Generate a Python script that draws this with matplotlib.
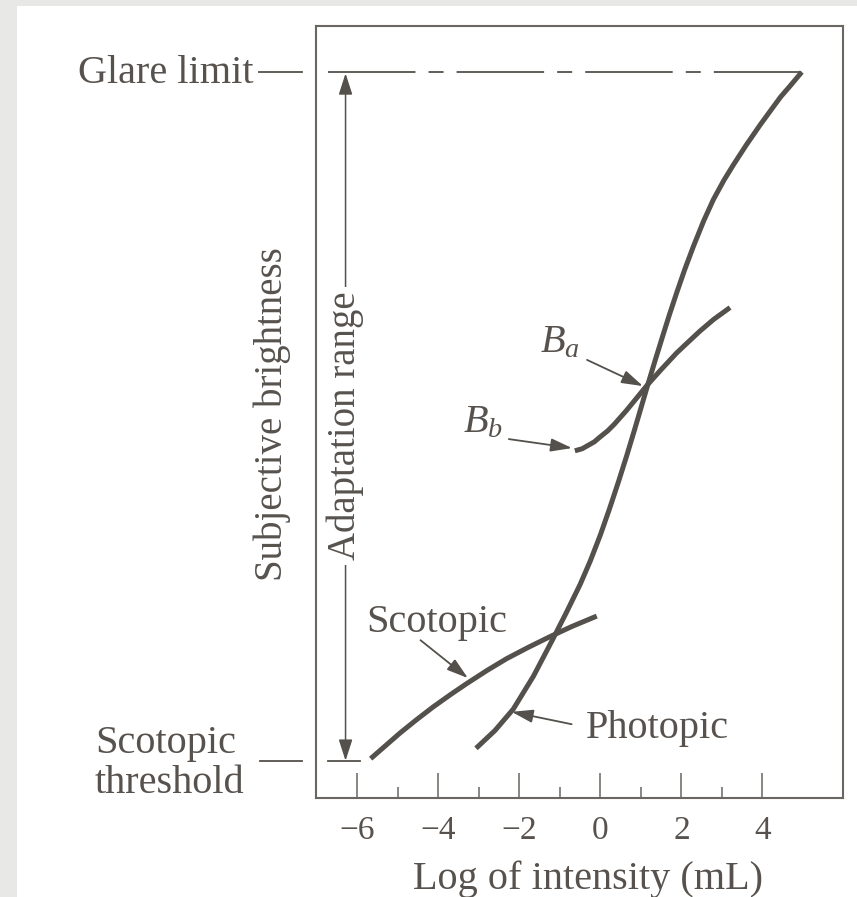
import matplotlib
matplotlib.use("Agg")
import matplotlib.pyplot as plt
from matplotlib.patches import Rectangle

# main (photopic) brightness curve
photopic_x = [-3.07, -2.6, -2.15, -1.65, -1.17, -0.85, -0.5, -0.25, 0.0, 0.22, 0.44, 0.65,
              0.85, 1.0, 1.17, 1.35, 1.55, 1.7, 1.88, 2.08, 2.29, 2.55, 2.79, 3.05, 3.28,
              3.6, 3.94, 4.2, 4.45, 4.7, 4.97]
photopic_y = [0.18, 0.44, 0.75, 1.23, 1.77, 2.14, 2.56, 2.90, 3.28, 3.65, 4.04, 4.43,
              4.82, 5.12, 5.46, 5.81, 6.19, 6.47, 6.79, 7.13, 7.46, 7.84, 8.15, 8.43, 8.65,
              8.94, 9.23, 9.44, 9.64, 9.81, 10.0]

# scotopic branch
scotopic_x = [-5.67, -5.3, -4.95, -4.55, -4.13, -3.7, -3.3, -2.8, -2.32, -1.8, -1.25, -0.7, -0.09]
scotopic_y = [0.03, 0.22, 0.40, 0.59, 0.78, 0.96, 1.12, 1.31, 1.48, 1.64, 1.80, 1.95, 2.10]

# brightness curve for one adaptation level (Ba / Bb)
adapt_x = [-0.63, -0.45, -0.3, -0.15, -0.01, 0.18, 0.35, 0.5, 0.65, 0.9, 1.15, 1.5, 1.88,
           2.15, 2.46, 2.8, 3.2]
adapt_y = [4.50, 4.53, 4.58, 4.63, 4.70, 4.79, 4.89, 4.99, 5.09, 5.27, 5.45, 5.68, 5.92,
           6.07, 6.24, 6.41, 6.58]

glare_level = 10.0
threshold_level = 0.0
glare_x = [-6.73, 5.0]
range_x = -6.29

major_ticks = [-6, -4, -2, 0, 2, 4]
minor_ticks = [-5, -3, -1, 1, 3]
tick_labels = ['\u22126', '\u22124', '\u22122', '0', '2', '4']

ink = '#54504b'
frame_col = '#6a6661'
text_col = '#57524d'

plt.rcParams['font.family'] = ['Liberation Serif', 'DejaVu Serif']
plt.rcParams['mathtext.fontset'] = 'custom'
plt.rcParams['mathtext.it'] = 'Liberation Serif:italic'
plt.rcParams['mathtext.rm'] = 'Liberation Serif'
plt.rcParams['lines.scale_dashes'] = False

fig = plt.figure(figsize=(8.57, 8.97), dpi=100)
fig.patch.set_facecolor('#e8e8e6')
fig.add_artist(Rectangle((17 / 857, 0), 1, 891 / 897, transform=fig.transFigure,
                         facecolor='white', edgecolor='none', zorder=-10))

ax = fig.add_axes([0.3687, 0.1107, 0.6146, 0.8603])
ax.set_xlim(-7.02, 5.98)
ax.set_ylim(-0.537, 10.668)
ax.set_yticks([])
ax.set_xticks(major_ticks, tick_labels)
ax.set_xticks(minor_ticks, minor=True)
ax.tick_params(axis='x', which='major', direction='in', length=18, width=1.1,
               pad=13, labelsize=24, color=frame_col, labelcolor=text_col)
ax.tick_params(axis='x', which='minor', direction='in', length=8, width=1.1, color=frame_col)
for s in ax.spines.values():
    s.set_linewidth(1.5)
    s.set_color(frame_col)

# curves
for xs, ys in [(photopic_x, photopic_y), (scotopic_x, scotopic_y), (adapt_x, adapt_y)]:
    ax.plot(xs, ys, color=ink, lw=3.6, solid_capstyle='butt', solid_joinstyle='round', zorder=3)

# glare limit dashed line and side marks
ln, = ax.plot(glare_x, [glare_level, glare_level], color=ink, lw=1.3)
ln.set_dashes([63, 9.4, 10.8, 9.4])
ax.plot([-8.43, -7.37], [glare_level, glare_level], color=ink, lw=1.3, clip_on=False)
ax.plot([-8.41, -7.37], [threshold_level, threshold_level], color=ink, lw=1.3, clip_on=False)
ax.plot([-6.73, -5.93], [threshold_level, threshold_level], color=ink, lw=1.3)

# adaptation range arrow
ax.annotate('', xy=(range_x, glare_level - 0.02), xytext=(range_x, threshold_level),
            arrowprops=dict(arrowstyle='<|-|>,head_length=1.3,head_width=0.42', color=ink,
                            lw=1.1, shrinkA=0, shrinkB=0, mutation_scale=10))
ax.text(range_x, 4.86, 'Adaptation range', rotation=90, ha='center', va='center',
        fontsize=28, color=text_col, zorder=4,
        bbox=dict(facecolor='white', edgecolor='none', pad=3))

ax.text(-8.1, 5.03, 'Subjective brightness', rotation=90, ha='center', va='center',
        fontsize=28, color=text_col, clip_on=False)
ax.text(-8.56, 9.84, 'Glare limit', ha='right', va='baseline', fontsize=29,
        color=text_col, clip_on=False)
ax.text(-12.48, 0.11, 'Scotopic', ha='left', va='baseline', fontsize=29,
        color=text_col, clip_on=False)
ax.text(-12.48, -0.47, 'threshold', ha='left', va='baseline', fontsize=29,
        color=text_col, clip_on=False)
ax.text(-0.30, -1.863, 'Log of intensity (mL)', ha='center', va='baseline', fontsize=29,
        color=text_col, clip_on=False)

arrow_kw = dict(arrowstyle='-|>,head_length=1.3,head_width=0.4', color=ink, lw=1.3,
                shrinkA=0, shrinkB=0, mutation_scale=10)
ax.annotate('', xy=(1.05, 5.44), xytext=(-0.33, 5.82), arrowprops=arrow_kw)
ax.annotate('', xy=(-0.70, 4.54), xytext=(-2.26, 4.67), arrowprops=arrow_kw)
ax.annotate('', xy=(-3.27, 1.20), xytext=(-4.44, 1.75), arrowprops=arrow_kw)
ax.annotate('', xy=(-2.19, 0.71), xytext=(-0.71, 0.53), arrowprops=arrow_kw)

ax.text(-1.49, 5.93, '$B_a$', ha='left', va='baseline', fontsize=29, color=text_col)
ax.text(-3.40, 4.77, '$B_b$', ha='left', va='baseline', fontsize=29, color=text_col)
ax.text(-4.04, 1.87, 'Scotopic', ha='center', va='baseline', fontsize=29, color=text_col)
ax.text(1.40, 0.33, 'Photopic', ha='center', va='baseline', fontsize=29, color=text_col)

fig.savefig('out.png', dpi=100, facecolor=fig.get_facecolor())
